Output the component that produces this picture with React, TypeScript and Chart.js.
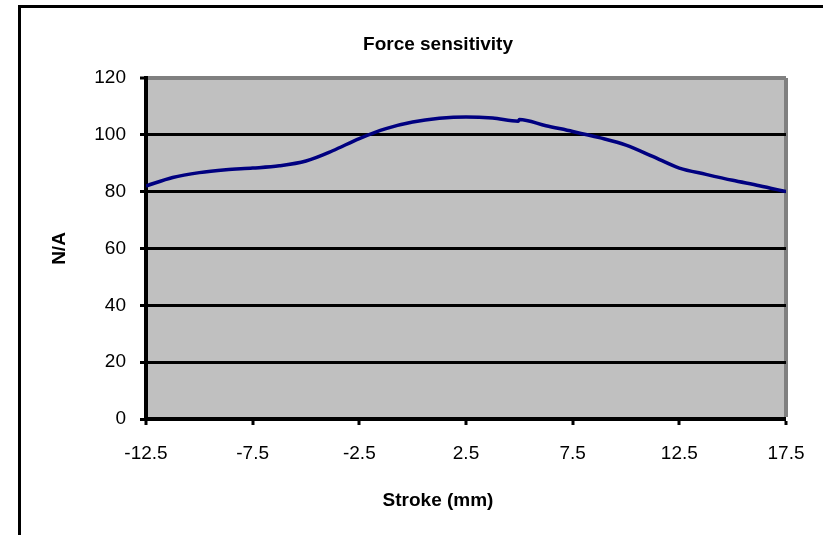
import React, { useEffect, useRef } from "react";
import { Chart, registerables } from "chart.js";

Chart.register(...registerables);

const chartTitle = "Force sensitivity";
const xAxisTitle = "Stroke (mm)";
const yAxisTitle = "N/A";

const strokeMm = [
  -12.5, -11.25, -10, -8.75, -7.5, -6.25, -5, -3.75, -2.5, -1.25, 0, 1.25, 2.5,
  3.75, 4.95, 5, 6.25, 7.5, 8.75, 10, 11.25, 12.5, 13.75, 15, 16.25, 17.5,
];
const forceSensitivity = [
  82.0, 85.0, 86.7, 87.7, 88.3, 89.1, 90.8, 94.4, 98.7, 102.2, 104.5, 105.8,
  106.3, 105.9, 104.8, 105.4, 103.2, 101.2, 99.0, 96.4, 92.4, 88.3, 86.1, 84.0,
  82.1, 80.0,
];
const xTickLabels = ["-12.5", "-7.5", "-2.5", "2.5", "7.5", "12.5", "17.5"];
const yTickLabels = ["0", "20", "40", "60", "80", "100", "120"];

const FONT = "'Liberation Sans', Arial, sans-serif";

const plotBackground = {
  id: "plotBackground",
  beforeDraw(chart: any) {
    const { ctx, chartArea } = chart;
    if (!chartArea) return;
    ctx.save();
    ctx.fillStyle = "#C0C0C0";
    ctx.fillRect(
      chartArea.left,
      chartArea.top,
      chartArea.right - chartArea.left,
      chartArea.bottom - chartArea.top
    );
    ctx.restore();
  },
};

export default function App() {
  const canvasRef = useRef<HTMLCanvasElement | null>(null);

  useEffect(() => {
    if (!canvasRef.current) return;
    const chart = new Chart(canvasRef.current, {
      type: "line",
      data: {
        datasets: [
          {
            data: strokeMm.map((x, i) => ({ x, y: forceSensitivity[i] })),
            borderColor: "#000080",
            borderWidth: 3.5,
            pointRadius: 0,
            fill: false,
            tension: 0.4,
            cubicInterpolationMode: "monotone",
          },
        ],
      },
      plugins: [plotBackground],
      options: {
        animation: false,
        responsive: true,
        maintainAspectRatio: false,
        layout: { padding: { left: 90, top: 0, right: 37, bottom: 0 } },
        plugins: {
          legend: { display: false },
          tooltip: { enabled: false },
          title: {
            display: true,
            text: chartTitle,
            color: "#000",
            font: { family: FONT, size: 19, weight: "bold" },
            padding: { top: 33.6, bottom: 21.6 },
          },
          subtitle: {
            display: true,
            position: "bottom",
            text: xAxisTitle,
            color: "#000",
            font: { family: FONT, size: 19, weight: "bold" },
            padding: { top: 10, bottom: 23.1 },
          },
        },
        scales: {
          x: {
            type: "linear",
            min: -12.5,
            max: 17.5,
            afterFit(scale: any) {
              scale.height = 116 - (22.8 + 10 + 23.1);
            },
            ticks: {
              stepSize: 5,
              color: "#000",
              font: { family: FONT, size: 19 },
              padding: 17,
              maxRotation: 0,
              autoSkip: false,
              callback: (_v: any, i: number) => xTickLabels[i],
            },
            grid: {
              display: true,
              drawOnChartArea: true,
              drawTicks: true,
              tickLength: 6,
              tickColor: "#000",
              tickWidth: 3,
              color: (ctx: any) =>
                ctx.tick && ctx.tick.value === 17.5 ? "#808080" : "rgba(0,0,0,0)",
              lineWidth: (ctx: any) =>
                ctx.tick && ctx.tick.value === 17.5 ? 4 : 0,
            },
            border: { display: true, color: "#000", width: 4 },
          },
          y: {
            type: "linear",
            min: 0,
            max: 120,
            afterFit(scale: any) {
              scale.width = 56;
            },
            ticks: {
              stepSize: 20,
              color: "#000",
              font: { family: FONT, size: 19 },
              padding: 14,
              callback: (_v: any, i: number) => yTickLabels[i],
            },
            grid: {
              display: true,
              drawTicks: true,
              tickLength: 6,
              tickColor: "#000",
              tickWidth: 3,
              color: (ctx: any) =>
                ctx.tick && ctx.tick.value === 120 ? "#808080" : "#000",
              lineWidth: (ctx: any) =>
                ctx.tick && ctx.tick.value === 120 ? 4 : 3,
            },
            border: { display: true, color: "#000", width: 4 },
            title: {
              display: true,
              text: yAxisTitle,
              color: "#000",
              font: { family: FONT, size: 19, weight: "bold" },
              padding: { top: -41.4, bottom: 0 },
            },
          },
        },
      },
    } as any);
    return () => chart.destroy();
  }, []);

  return (
    <div
      style={{
        position: "fixed",
        left: 0,
        top: 0,
        width: 823,
        height: 535,
        overflow: "hidden",
        background: "#fff",
      }}
    >
      <div
        style={{
          position: "absolute",
          left: 18,
          top: 5,
          width: 2000,
          height: 2000,
          borderLeft: "3px solid #000",
          borderTop: "3px solid #000",
        }}
      />
      <div style={{ position: "absolute", left: 0, top: 0, width: 823, height: 535 }}>
        <canvas ref={canvasRef} />
      </div>
    </div>
  );
}
